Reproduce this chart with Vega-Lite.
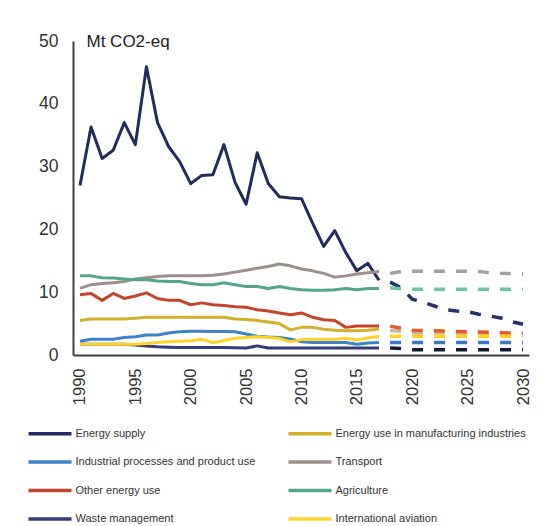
{
  "$schema": "https://vega.github.io/schema/vega-lite/v6.json",
  "width": 456,
  "height": 314,
  "autosize": {"type": "none"},
  "padding": {"left": 73, "top": 41, "right": 18, "bottom": 171},
  "background": "white",
  "config": {
    "view": {"stroke": null},
    "font": "Liberation Sans",
    "axis": {"grid": false, "ticks": false, "domainColor": "#404040", "domainWidth": 2, "labelColor": "#333333", "labelFontSize": 16, "labelFont": "Liberation Sans"}
  },
  "datasets": {
    "hist": [
      {"series": "Energy supply", "year": 1990, "value": 27.0},
      {"series": "Energy supply", "year": 1991, "value": 36.3},
      {"series": "Energy supply", "year": 1992, "value": 31.3},
      {"series": "Energy supply", "year": 1993, "value": 32.6},
      {"series": "Energy supply", "year": 1994, "value": 37.0},
      {"series": "Energy supply", "year": 1995, "value": 33.5},
      {"series": "Energy supply", "year": 1996, "value": 45.9},
      {"series": "Energy supply", "year": 1997, "value": 37.0},
      {"series": "Energy supply", "year": 1998, "value": 33.2},
      {"series": "Energy supply", "year": 1999, "value": 30.8},
      {"series": "Energy supply", "year": 2000, "value": 27.3},
      {"series": "Energy supply", "year": 2001, "value": 28.6},
      {"series": "Energy supply", "year": 2002, "value": 28.7},
      {"series": "Energy supply", "year": 2003, "value": 33.5},
      {"series": "Energy supply", "year": 2004, "value": 27.5},
      {"series": "Energy supply", "year": 2005, "value": 24.0},
      {"series": "Energy supply", "year": 2006, "value": 32.2},
      {"series": "Energy supply", "year": 2007, "value": 27.3},
      {"series": "Energy supply", "year": 2008, "value": 25.2},
      {"series": "Energy supply", "year": 2009, "value": 25.0},
      {"series": "Energy supply", "year": 2010, "value": 24.9},
      {"series": "Energy supply", "year": 2011, "value": 21.0},
      {"series": "Energy supply", "year": 2012, "value": 17.3},
      {"series": "Energy supply", "year": 2013, "value": 19.8},
      {"series": "Energy supply", "year": 2014, "value": 16.3},
      {"series": "Energy supply", "year": 2015, "value": 13.4},
      {"series": "Energy supply", "year": 2016, "value": 14.6},
      {"series": "Energy supply", "year": 2017, "value": 11.9},
      {"series": "Energy use in manufacturing industries", "year": 1990, "value": 5.5},
      {"series": "Energy use in manufacturing industries", "year": 1991, "value": 5.75},
      {"series": "Energy use in manufacturing industries", "year": 1992, "value": 5.75},
      {"series": "Energy use in manufacturing industries", "year": 1993, "value": 5.75},
      {"series": "Energy use in manufacturing industries", "year": 1994, "value": 5.75},
      {"series": "Energy use in manufacturing industries", "year": 1995, "value": 5.85},
      {"series": "Energy use in manufacturing industries", "year": 1996, "value": 6.0},
      {"series": "Energy use in manufacturing industries", "year": 1997, "value": 6.0},
      {"series": "Energy use in manufacturing industries", "year": 1998, "value": 6.0},
      {"series": "Energy use in manufacturing industries", "year": 1999, "value": 6.0},
      {"series": "Energy use in manufacturing industries", "year": 2000, "value": 6.0},
      {"series": "Energy use in manufacturing industries", "year": 2001, "value": 6.0},
      {"series": "Energy use in manufacturing industries", "year": 2002, "value": 6.0},
      {"series": "Energy use in manufacturing industries", "year": 2003, "value": 6.0},
      {"series": "Energy use in manufacturing industries", "year": 2004, "value": 5.75},
      {"series": "Energy use in manufacturing industries", "year": 2005, "value": 5.65},
      {"series": "Energy use in manufacturing industries", "year": 2006, "value": 5.5},
      {"series": "Energy use in manufacturing industries", "year": 2007, "value": 5.25},
      {"series": "Energy use in manufacturing industries", "year": 2008, "value": 5.0},
      {"series": "Energy use in manufacturing industries", "year": 2009, "value": 4.0},
      {"series": "Energy use in manufacturing industries", "year": 2010, "value": 4.4},
      {"series": "Energy use in manufacturing industries", "year": 2011, "value": 4.4},
      {"series": "Energy use in manufacturing industries", "year": 2012, "value": 4.1},
      {"series": "Energy use in manufacturing industries", "year": 2013, "value": 3.95},
      {"series": "Energy use in manufacturing industries", "year": 2014, "value": 3.85},
      {"series": "Energy use in manufacturing industries", "year": 2015, "value": 3.85},
      {"series": "Energy use in manufacturing industries", "year": 2016, "value": 3.95},
      {"series": "Energy use in manufacturing industries", "year": 2017, "value": 4.15},
      {"series": "Industrial processes and product use", "year": 1990, "value": 2.2},
      {"series": "Industrial processes and product use", "year": 1991, "value": 2.5},
      {"series": "Industrial processes and product use", "year": 1992, "value": 2.5},
      {"series": "Industrial processes and product use", "year": 1993, "value": 2.5},
      {"series": "Industrial processes and product use", "year": 1994, "value": 2.8},
      {"series": "Industrial processes and product use", "year": 1995, "value": 2.9},
      {"series": "Industrial processes and product use", "year": 1996, "value": 3.2},
      {"series": "Industrial processes and product use", "year": 1997, "value": 3.2},
      {"series": "Industrial processes and product use", "year": 1998, "value": 3.5},
      {"series": "Industrial processes and product use", "year": 1999, "value": 3.7},
      {"series": "Industrial processes and product use", "year": 2000, "value": 3.8},
      {"series": "Industrial processes and product use", "year": 2001, "value": 3.8},
      {"series": "Industrial processes and product use", "year": 2002, "value": 3.75},
      {"series": "Industrial processes and product use", "year": 2003, "value": 3.75},
      {"series": "Industrial processes and product use", "year": 2004, "value": 3.7},
      {"series": "Industrial processes and product use", "year": 2005, "value": 3.35},
      {"series": "Industrial processes and product use", "year": 2006, "value": 3.0},
      {"series": "Industrial processes and product use", "year": 2007, "value": 2.85},
      {"series": "Industrial processes and product use", "year": 2008, "value": 2.8},
      {"series": "Industrial processes and product use", "year": 2009, "value": 2.55},
      {"series": "Industrial processes and product use", "year": 2010, "value": 2.1},
      {"series": "Industrial processes and product use", "year": 2011, "value": 2.0},
      {"series": "Industrial processes and product use", "year": 2012, "value": 2.0},
      {"series": "Industrial processes and product use", "year": 2013, "value": 2.0},
      {"series": "Industrial processes and product use", "year": 2014, "value": 2.0},
      {"series": "Industrial processes and product use", "year": 2015, "value": 1.7},
      {"series": "Industrial processes and product use", "year": 2016, "value": 1.9},
      {"series": "Industrial processes and product use", "year": 2017, "value": 2.0},
      {"series": "Transport", "year": 1990, "value": 10.6},
      {"series": "Transport", "year": 1991, "value": 11.2},
      {"series": "Transport", "year": 1992, "value": 11.4},
      {"series": "Transport", "year": 1993, "value": 11.5},
      {"series": "Transport", "year": 1994, "value": 11.7},
      {"series": "Transport", "year": 1995, "value": 12.1},
      {"series": "Transport", "year": 1996, "value": 12.3},
      {"series": "Transport", "year": 1997, "value": 12.5},
      {"series": "Transport", "year": 1998, "value": 12.6},
      {"series": "Transport", "year": 1999, "value": 12.6},
      {"series": "Transport", "year": 2000, "value": 12.6},
      {"series": "Transport", "year": 2001, "value": 12.6},
      {"series": "Transport", "year": 2002, "value": 12.7},
      {"series": "Transport", "year": 2003, "value": 12.9},
      {"series": "Transport", "year": 2004, "value": 13.2},
      {"series": "Transport", "year": 2005, "value": 13.5},
      {"series": "Transport", "year": 2006, "value": 13.8},
      {"series": "Transport", "year": 2007, "value": 14.1},
      {"series": "Transport", "year": 2008, "value": 14.5},
      {"series": "Transport", "year": 2009, "value": 14.2},
      {"series": "Transport", "year": 2010, "value": 13.7},
      {"series": "Transport", "year": 2011, "value": 13.4},
      {"series": "Transport", "year": 2012, "value": 13.0},
      {"series": "Transport", "year": 2013, "value": 12.4},
      {"series": "Transport", "year": 2014, "value": 12.6},
      {"series": "Transport", "year": 2015, "value": 12.9},
      {"series": "Transport", "year": 2016, "value": 13.1},
      {"series": "Transport", "year": 2017, "value": 13.3},
      {"series": "Other energy use", "year": 1990, "value": 9.6},
      {"series": "Other energy use", "year": 1991, "value": 9.8},
      {"series": "Other energy use", "year": 1992, "value": 8.7},
      {"series": "Other energy use", "year": 1993, "value": 9.8},
      {"series": "Other energy use", "year": 1994, "value": 9.0},
      {"series": "Other energy use", "year": 1995, "value": 9.4},
      {"series": "Other energy use", "year": 1996, "value": 9.9},
      {"series": "Other energy use", "year": 1997, "value": 9.0},
      {"series": "Other energy use", "year": 1998, "value": 8.7},
      {"series": "Other energy use", "year": 1999, "value": 8.7},
      {"series": "Other energy use", "year": 2000, "value": 8.0},
      {"series": "Other energy use", "year": 2001, "value": 8.3},
      {"series": "Other energy use", "year": 2002, "value": 8.0},
      {"series": "Other energy use", "year": 2003, "value": 7.9},
      {"series": "Other energy use", "year": 2004, "value": 7.7},
      {"series": "Other energy use", "year": 2005, "value": 7.6},
      {"series": "Other energy use", "year": 2006, "value": 7.2},
      {"series": "Other energy use", "year": 2007, "value": 7.0},
      {"series": "Other energy use", "year": 2008, "value": 6.7},
      {"series": "Other energy use", "year": 2009, "value": 6.4},
      {"series": "Other energy use", "year": 2010, "value": 6.7},
      {"series": "Other energy use", "year": 2011, "value": 6.0},
      {"series": "Other energy use", "year": 2012, "value": 5.6},
      {"series": "Other energy use", "year": 2013, "value": 5.5},
      {"series": "Other energy use", "year": 2014, "value": 4.4},
      {"series": "Other energy use", "year": 2015, "value": 4.6},
      {"series": "Other energy use", "year": 2016, "value": 4.6},
      {"series": "Other energy use", "year": 2017, "value": 4.6},
      {"series": "Agriculture", "year": 1990, "value": 12.6},
      {"series": "Agriculture", "year": 1991, "value": 12.6},
      {"series": "Agriculture", "year": 1992, "value": 12.3},
      {"series": "Agriculture", "year": 1993, "value": 12.25},
      {"series": "Agriculture", "year": 1994, "value": 12.1},
      {"series": "Agriculture", "year": 1995, "value": 12.0},
      {"series": "Agriculture", "year": 1996, "value": 12.0},
      {"series": "Agriculture", "year": 1997, "value": 11.8},
      {"series": "Agriculture", "year": 1998, "value": 11.7},
      {"series": "Agriculture", "year": 1999, "value": 11.7},
      {"series": "Agriculture", "year": 2000, "value": 11.4},
      {"series": "Agriculture", "year": 2001, "value": 11.2},
      {"series": "Agriculture", "year": 2002, "value": 11.2},
      {"series": "Agriculture", "year": 2003, "value": 11.5},
      {"series": "Agriculture", "year": 2004, "value": 11.2},
      {"series": "Agriculture", "year": 2005, "value": 10.9},
      {"series": "Agriculture", "year": 2006, "value": 10.9},
      {"series": "Agriculture", "year": 2007, "value": 10.6},
      {"series": "Agriculture", "year": 2008, "value": 10.9},
      {"series": "Agriculture", "year": 2009, "value": 10.6},
      {"series": "Agriculture", "year": 2010, "value": 10.4},
      {"series": "Agriculture", "year": 2011, "value": 10.3},
      {"series": "Agriculture", "year": 2012, "value": 10.3},
      {"series": "Agriculture", "year": 2013, "value": 10.4},
      {"series": "Agriculture", "year": 2014, "value": 10.6},
      {"series": "Agriculture", "year": 2015, "value": 10.4},
      {"series": "Agriculture", "year": 2016, "value": 10.6},
      {"series": "Agriculture", "year": 2017, "value": 10.6},
      {"series": "Waste management", "year": 1990, "value": 1.7},
      {"series": "Waste management", "year": 1991, "value": 1.7},
      {"series": "Waste management", "year": 1992, "value": 1.7},
      {"series": "Waste management", "year": 1993, "value": 1.7},
      {"series": "Waste management", "year": 1994, "value": 1.7},
      {"series": "Waste management", "year": 1995, "value": 1.6},
      {"series": "Waste management", "year": 1996, "value": 1.45},
      {"series": "Waste management", "year": 1997, "value": 1.3},
      {"series": "Waste management", "year": 1998, "value": 1.25},
      {"series": "Waste management", "year": 1999, "value": 1.2},
      {"series": "Waste management", "year": 2000, "value": 1.2},
      {"series": "Waste management", "year": 2001, "value": 1.2},
      {"series": "Waste management", "year": 2002, "value": 1.2},
      {"series": "Waste management", "year": 2003, "value": 1.2},
      {"series": "Waste management", "year": 2004, "value": 1.15},
      {"series": "Waste management", "year": 2005, "value": 1.1},
      {"series": "Waste management", "year": 2006, "value": 1.45},
      {"series": "Waste management", "year": 2007, "value": 1.1},
      {"series": "Waste management", "year": 2008, "value": 1.1},
      {"series": "Waste management", "year": 2009, "value": 1.1},
      {"series": "Waste management", "year": 2010, "value": 1.1},
      {"series": "Waste management", "year": 2011, "value": 1.1},
      {"series": "Waste management", "year": 2012, "value": 1.1},
      {"series": "Waste management", "year": 2013, "value": 1.1},
      {"series": "Waste management", "year": 2014, "value": 1.1},
      {"series": "Waste management", "year": 2015, "value": 1.1},
      {"series": "Waste management", "year": 2016, "value": 1.1},
      {"series": "Waste management", "year": 2017, "value": 1.1},
      {"series": "International aviation", "year": 1990, "value": 1.7},
      {"series": "International aviation", "year": 1991, "value": 1.7},
      {"series": "International aviation", "year": 1992, "value": 1.7},
      {"series": "International aviation", "year": 1993, "value": 1.7},
      {"series": "International aviation", "year": 1994, "value": 1.7},
      {"series": "International aviation", "year": 1995, "value": 1.7},
      {"series": "International aviation", "year": 1996, "value": 1.85},
      {"series": "International aviation", "year": 1997, "value": 2.0},
      {"series": "International aviation", "year": 1998, "value": 2.1},
      {"series": "International aviation", "year": 1999, "value": 2.2},
      {"series": "International aviation", "year": 2000, "value": 2.25},
      {"series": "International aviation", "year": 2001, "value": 2.5},
      {"series": "International aviation", "year": 2002, "value": 1.95},
      {"series": "International aviation", "year": 2003, "value": 2.3},
      {"series": "International aviation", "year": 2004, "value": 2.65},
      {"series": "International aviation", "year": 2005, "value": 2.8},
      {"series": "International aviation", "year": 2006, "value": 2.9},
      {"series": "International aviation", "year": 2007, "value": 2.8},
      {"series": "International aviation", "year": 2008, "value": 2.65},
      {"series": "International aviation", "year": 2009, "value": 2.1},
      {"series": "International aviation", "year": 2010, "value": 2.45},
      {"series": "International aviation", "year": 2011, "value": 2.5},
      {"series": "International aviation", "year": 2012, "value": 2.5},
      {"series": "International aviation", "year": 2013, "value": 2.5},
      {"series": "International aviation", "year": 2014, "value": 2.65},
      {"series": "International aviation", "year": 2015, "value": 2.4},
      {"series": "International aviation", "year": 2016, "value": 2.7},
      {"series": "International aviation", "year": 2017, "value": 3.0}
    ],
    "proj": [
      {"series": "Energy supply", "year": 2018, "value": 11.6},
      {"series": "Energy supply", "year": 2019, "value": 10.7},
      {"series": "Energy supply", "year": 2020, "value": 8.9},
      {"series": "Energy supply", "year": 2021, "value": 8.4},
      {"series": "Energy supply", "year": 2022, "value": 7.8},
      {"series": "Energy supply", "year": 2023, "value": 7.2},
      {"series": "Energy supply", "year": 2024, "value": 7.0},
      {"series": "Energy supply", "year": 2025, "value": 6.9},
      {"series": "Energy supply", "year": 2026, "value": 6.5},
      {"series": "Energy supply", "year": 2027, "value": 6.2},
      {"series": "Energy supply", "year": 2028, "value": 5.9},
      {"series": "Energy supply", "year": 2029, "value": 5.3},
      {"series": "Energy supply", "year": 2030, "value": 4.9},
      {"series": "Energy use in manufacturing industries", "year": 2018, "value": 3.9},
      {"series": "Energy use in manufacturing industries", "year": 2019, "value": 3.8},
      {"series": "Energy use in manufacturing industries", "year": 2020, "value": 3.55},
      {"series": "Energy use in manufacturing industries", "year": 2021, "value": 3.5},
      {"series": "Energy use in manufacturing industries", "year": 2022, "value": 3.5},
      {"series": "Energy use in manufacturing industries", "year": 2023, "value": 3.5},
      {"series": "Energy use in manufacturing industries", "year": 2024, "value": 3.45},
      {"series": "Energy use in manufacturing industries", "year": 2025, "value": 3.45},
      {"series": "Energy use in manufacturing industries", "year": 2026, "value": 3.4},
      {"series": "Energy use in manufacturing industries", "year": 2027, "value": 3.4},
      {"series": "Energy use in manufacturing industries", "year": 2028, "value": 3.35},
      {"series": "Energy use in manufacturing industries", "year": 2029, "value": 3.35},
      {"series": "Energy use in manufacturing industries", "year": 2030, "value": 3.3},
      {"series": "Industrial processes and product use", "year": 2018, "value": 2.0},
      {"series": "Industrial processes and product use", "year": 2019, "value": 2.0},
      {"series": "Industrial processes and product use", "year": 2020, "value": 2.0},
      {"series": "Industrial processes and product use", "year": 2021, "value": 2.0},
      {"series": "Industrial processes and product use", "year": 2022, "value": 2.0},
      {"series": "Industrial processes and product use", "year": 2023, "value": 2.0},
      {"series": "Industrial processes and product use", "year": 2024, "value": 2.0},
      {"series": "Industrial processes and product use", "year": 2025, "value": 2.0},
      {"series": "Industrial processes and product use", "year": 2026, "value": 2.0},
      {"series": "Industrial processes and product use", "year": 2027, "value": 2.0},
      {"series": "Industrial processes and product use", "year": 2028, "value": 2.0},
      {"series": "Industrial processes and product use", "year": 2029, "value": 2.0},
      {"series": "Industrial processes and product use", "year": 2030, "value": 2.0},
      {"series": "Transport", "year": 2018, "value": 13.0},
      {"series": "Transport", "year": 2019, "value": 13.3},
      {"series": "Transport", "year": 2020, "value": 13.35},
      {"series": "Transport", "year": 2021, "value": 13.35},
      {"series": "Transport", "year": 2022, "value": 13.35},
      {"series": "Transport", "year": 2023, "value": 13.35},
      {"series": "Transport", "year": 2024, "value": 13.35},
      {"series": "Transport", "year": 2025, "value": 13.35},
      {"series": "Transport", "year": 2026, "value": 13.3},
      {"series": "Transport", "year": 2027, "value": 13.1},
      {"series": "Transport", "year": 2028, "value": 13.0},
      {"series": "Transport", "year": 2029, "value": 12.95},
      {"series": "Transport", "year": 2030, "value": 12.9},
      {"series": "Other energy use", "year": 2018, "value": 4.6},
      {"series": "Other energy use", "year": 2019, "value": 4.25},
      {"series": "Other energy use", "year": 2020, "value": 3.95},
      {"series": "Other energy use", "year": 2021, "value": 3.9},
      {"series": "Other energy use", "year": 2022, "value": 3.85},
      {"series": "Other energy use", "year": 2023, "value": 3.8},
      {"series": "Other energy use", "year": 2024, "value": 3.75},
      {"series": "Other energy use", "year": 2025, "value": 3.7},
      {"series": "Other energy use", "year": 2026, "value": 3.65},
      {"series": "Other energy use", "year": 2027, "value": 3.6},
      {"series": "Other energy use", "year": 2028, "value": 3.55},
      {"series": "Other energy use", "year": 2029, "value": 3.5},
      {"series": "Other energy use", "year": 2030, "value": 3.45},
      {"series": "Agriculture", "year": 2018, "value": 10.7},
      {"series": "Agriculture", "year": 2019, "value": 10.55},
      {"series": "Agriculture", "year": 2020, "value": 10.45},
      {"series": "Agriculture", "year": 2021, "value": 10.45},
      {"series": "Agriculture", "year": 2022, "value": 10.45},
      {"series": "Agriculture", "year": 2023, "value": 10.45},
      {"series": "Agriculture", "year": 2024, "value": 10.45},
      {"series": "Agriculture", "year": 2025, "value": 10.45},
      {"series": "Agriculture", "year": 2026, "value": 10.45},
      {"series": "Agriculture", "year": 2027, "value": 10.45},
      {"series": "Agriculture", "year": 2028, "value": 10.45},
      {"series": "Agriculture", "year": 2029, "value": 10.45},
      {"series": "Agriculture", "year": 2030, "value": 10.45},
      {"series": "Waste management", "year": 2018, "value": 1.1},
      {"series": "Waste management", "year": 2019, "value": 1.05},
      {"series": "Waste management", "year": 2020, "value": 0.85},
      {"series": "Waste management", "year": 2021, "value": 0.85},
      {"series": "Waste management", "year": 2022, "value": 0.85},
      {"series": "Waste management", "year": 2023, "value": 0.85},
      {"series": "Waste management", "year": 2024, "value": 0.85},
      {"series": "Waste management", "year": 2025, "value": 0.85},
      {"series": "Waste management", "year": 2026, "value": 0.85},
      {"series": "Waste management", "year": 2027, "value": 0.85},
      {"series": "Waste management", "year": 2028, "value": 0.85},
      {"series": "Waste management", "year": 2029, "value": 0.85},
      {"series": "Waste management", "year": 2030, "value": 0.85},
      {"series": "International aviation", "year": 2018, "value": 3.0},
      {"series": "International aviation", "year": 2019, "value": 3.0},
      {"series": "International aviation", "year": 2020, "value": 3.0},
      {"series": "International aviation", "year": 2021, "value": 3.0},
      {"series": "International aviation", "year": 2022, "value": 3.0},
      {"series": "International aviation", "year": 2023, "value": 3.0},
      {"series": "International aviation", "year": 2024, "value": 3.0},
      {"series": "International aviation", "year": 2025, "value": 3.0},
      {"series": "International aviation", "year": 2026, "value": 3.0},
      {"series": "International aviation", "year": 2027, "value": 3.0},
      {"series": "International aviation", "year": 2028, "value": 3.0},
      {"series": "International aviation", "year": 2029, "value": 3.0},
      {"series": "International aviation", "year": 2030, "value": 3.0}
    ]
  },
  "layer": [
    {
      "data": {"name": "hist"},
      "mark": {"type": "line", "strokeWidth": 3, "strokeJoin": "round"},
      "encoding": {
        "x": {
          "field": "year", "type": "quantitative",
          "scale": {"domain": [1989.37, 2030.54], "nice": false, "zero": false},
          "axis": {"values": [1990, 1995, 2000, 2005, 2010, 2015, 2020, 2025, 2030], "format": "d", "labelAngle": -90, "labelPadding": 13, "labelFontSize": 16.5, "title": null}
        },
        "y": {
          "field": "value", "type": "quantitative",
          "scale": {"domain": [0, 50], "nice": false},
          "axis": {"values": [0, 5, 10, 15, 20, 25, 30, 35, 40, 45, 50], "labelPadding": 15, "labelFontSize": 17.5, "title": "Mt CO2-eq", "titleAngle": 0, "titleAlign": "left", "titleBaseline": "alphabetic", "titleX": 13, "titleY": 5, "titleFontSize": 17, "titleFontWeight": "normal", "titleColor": "#222222", "titleFont": "Liberation Sans"}
        },
        "color": {
          "field": "series", "type": "nominal",
          "scale": {
            "domain": ["Energy supply", "Energy use in manufacturing industries", "Industrial processes and product use", "Transport", "Other energy use", "Agriculture", "Waste management", "International aviation"],
            "range": ["#212c5c", "#d3af2b", "#3c84c6", "#9b908a", "#c4452a", "#52a78a", "#323c7a", "#ffd42a"]
          },
          "legend": {
            "orient": "none", "legendX": -57, "legendY": 380, "columns": 2, "direction": "horizontal", "title": null,
            "symbolType": "M-2,0H2", "symbolSize": 462, "symbolStrokeWidth": 3.5, "symbolOffset": 21.5,
            "labelFontSize": 11, "labelColor": "#333333", "labelFont": "Liberation Sans", "labelLimit": 400, "labelOffset": 13,
            "columnPadding": 20, "rowPadding": 8.5
          }
        }
      }
    },
    {
      "data": {"name": "proj"},
      "mark": {"type": "line", "strokeWidth": 3.5, "strokeDash": [11, 11]},
      "encoding": {
        "x": {"field": "year", "type": "quantitative"},
        "y": {"field": "value", "type": "quantitative"},
        "color": {
          "field": "series", "type": "nominal",
          "scale": {
            "domain": ["Energy supply", "Energy use in manufacturing industries", "Industrial processes and product use", "Transport", "Other energy use", "Agriculture", "Waste management", "International aviation"],
            "range": ["#26316a", "#c9b8a5", "#3878c0", "#a2a0a4", "#e8582a", "#6cc6a6", "#161b33", "#ffd21f"]
          },
          "legend": null
        }
      }
    }
  ],
  "resolve": {"scale": {"color": "independent"}}
}
